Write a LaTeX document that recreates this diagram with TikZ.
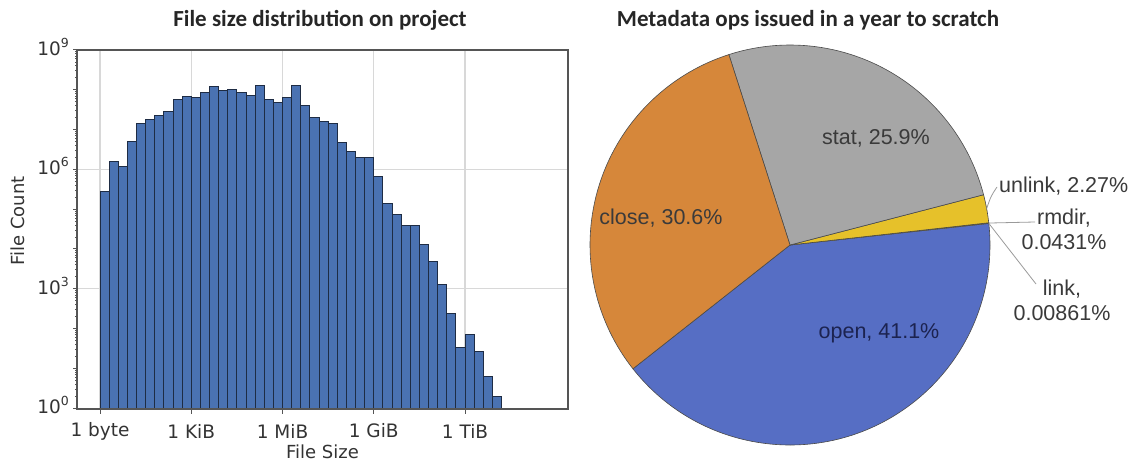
\documentclass[tikz,border=0pt]{standalone}
\usepackage{fontspec}
\setmainfont{DejaVu Sans}
\newfontfamily\titlefont{Carlito}
\newfontfamily\piefont{Liberation Sans}
\definecolor{barblue}{HTML}{4A72B2}
\definecolor{baredge}{HTML}{1E2C44}
\definecolor{gridc}{HTML}{D8D8D8}
\definecolor{spinec}{HTML}{555555}
\definecolor{tickc}{HTML}{333333}
\definecolor{pieorange}{HTML}{D6873A}
\definecolor{piegray}{HTML}{A6A6A6}
\definecolor{pieyellow}{HTML}{E6C12A}
\definecolor{pieblue}{HTML}{566EC4}
\definecolor{pieedge}{HTML}{4A4A4A}
\definecolor{pietext}{HTML}{3A3A3A}
\definecolor{opentext}{HTML}{1C2350}
\definecolor{leader}{HTML}{9A9A9A}
\tikzset{
  bar/.style={fill=barblue, draw=baredge, line width=0.9pt},
  gridline/.style={draw=gridc, line width=1.1pt},
  spine/.style={draw=spinec, line width=1.3pt},
  ticklab/.style={font=\fontsize{18.5}{18.5}\selectfont, text=tickc, inner sep=0pt},
  axlab/.style={font=\fontsize{18}{18}\selectfont, text=tickc, inner sep=0pt},
  ttl/.style={font=\titlefont\bfseries\fontsize{23}{23}\selectfont, text=black!85, inner sep=0pt},
  slice/.style={draw=pieedge, line width=0.6pt},
  pielab/.style={font=\piefont\fontsize{21.5}{25}\selectfont, text=pietext, inner sep=0pt, align=center},
  lead/.style={draw=leader, line width=0.8pt}
}
\newcommand{\tenp}[1]{10\raisebox{0.75ex}{\fontsize{12.5}{12.5}\selectfont #1}}
\begin{document}
\begin{tikzpicture}[x=1pt,y=-1pt]
\useasboundingbox (0,0) rectangle (1133,461);
% ---------------- histogram ----------------
\foreach \gx in {100,191.25,282.5,373.75,465} {\draw[gridline] (\gx,50) -- (\gx,409);}
\foreach \gy in {288.6,169.2} {\draw[gridline] (77,\gy) -- (568,\gy);}
\foreach \i/\t in {0/191.7,1/161,2/166,3/141.7,4/123.3,5/119,6/115.7,7/111.7,8/99.3,9/96.7,
  10/97.7,11/92.7,12/86.7,13/90,14/89.3,15/92.7,16/95,17/85,18/99.3,19/102.5,
  20/97.3,21/85,22/105,23/117,24/121.7,25/123.3,26/142.7,27/151,28/157.3,29/157.3,
  30/176.7,31/203.3,32/214.3,33/225.5,34/225.5,35/244.5,36/261.5,37/284.3,38/313.3,39/347.3,
  40/334.3,41/351,42/376.7,43/396}
  {\draw[bar] ({100+\i*9.125},409) rectangle ({100+(\i+1)*9.125},\t);}
\draw[spine] (77,50) rectangle (568,409);
\foreach \d in {0,...,9} {\draw[spinec, line width=0.9pt] (77,{408-39.8*\d}) -- (73,{408-39.8*\d});}
\foreach \d in {0,...,8} {\foreach \s in {2,...,9} {
  \draw[spinec, line width=0.5pt] (77,{408-39.8*(\d+log10(\s))}) -- (75,{408-39.8*(\d+log10(\s))});}}
\node[ticklab, anchor=east] (y0) at (69,405) {\tenp{0}};
\node[ticklab, anchor=east] (y3) at (69,286) {\tenp{3}};
\node[ticklab, anchor=east] (y6) at (69,166) {\tenp{6}};
\node[ticklab, anchor=east] (y9) at (69,47) {\tenp{9}};
\foreach \gx in {100,191.25,282.5,373.75,465} {\draw[spinec, line width=0.9pt] (\gx,409) -- (\gx,414);}
\node[ticklab] (x0) at (100,431) {1 byte};
\node[ticklab] (x1) at (191.25,431) {1 KiB};
\node[ticklab] (x2) at (282.5,431) {1 MiB};
\node[ticklab] (x3) at (373.75,431) {1 GiB};
\node[ticklab] (x4) at (465,431) {1 TiB};
\node[axlab] (xl) at (322.5,452) {File Size};
\node[axlab, rotate=90] (yl) at (18,221) {File Count};
\node[ttl] (t1) at (320,20) {File size distribution on project};
% ---------------- pie ----------------
\begin{scope}[shift={(790,245)}, yscale=-1]
  \filldraw[slice, fill=pieblue] (0,0) -- (-141.76:200) arc[start angle=-141.76, end angle=6.2, radius=200] -- cycle;
  \filldraw[slice, fill=pieyellow] (0,0) -- (6.2:200) arc[start angle=6.2, end angle=6.39, radius=200] -- cycle;
  \filldraw[slice, fill=pieyellow] (0,0) -- (6.39:200) arc[start angle=6.39, end angle=14.56, radius=200] -- cycle;
  \filldraw[slice, fill=piegray] (0,0) -- (14.56:200) arc[start angle=14.56, end angle=107.8, radius=200] -- cycle;
  \filldraw[slice, fill=pieorange] (0,0) -- (107.8:200) arc[start angle=107.8, end angle=218.24, radius=200] -- cycle;
  \coordinate (eu) at (10.5:200);
  \coordinate (er) at (6.31:200);
  \coordinate (el) at (6.21:200);
\end{scope}
\node[ttl] (t2) at (808,20) {Metadata ops issued in a year to scratch};
\node[pielab] (ls) at (876,138) {stat, 25.9\%};
\node[pielab] (lc) at (661,218) {close, 30.6\%};
\node[pielab, text=opentext] (lo) at (879,333) {open, 41.1\%};
\node[pielab, anchor=west] (lu) at (999,186) {unlink, 2.27\%};
\node[pielab] (lr) at (1064,229) {rmdir,\\0.0431\%};
\node[pielab] (lk) at (1062,300) {link,\\0.00861\%};
\coordinate (cu) at (997,187);
\coordinate (cr) at (1035,222);
\coordinate (ck) at (1036,284);
\draw[lead] (eu) .. controls (991,196) .. (cu);
\draw[lead] (er) -- (cr);
\draw[lead] (el) -- (ck);
\end{tikzpicture}
\end{document}
